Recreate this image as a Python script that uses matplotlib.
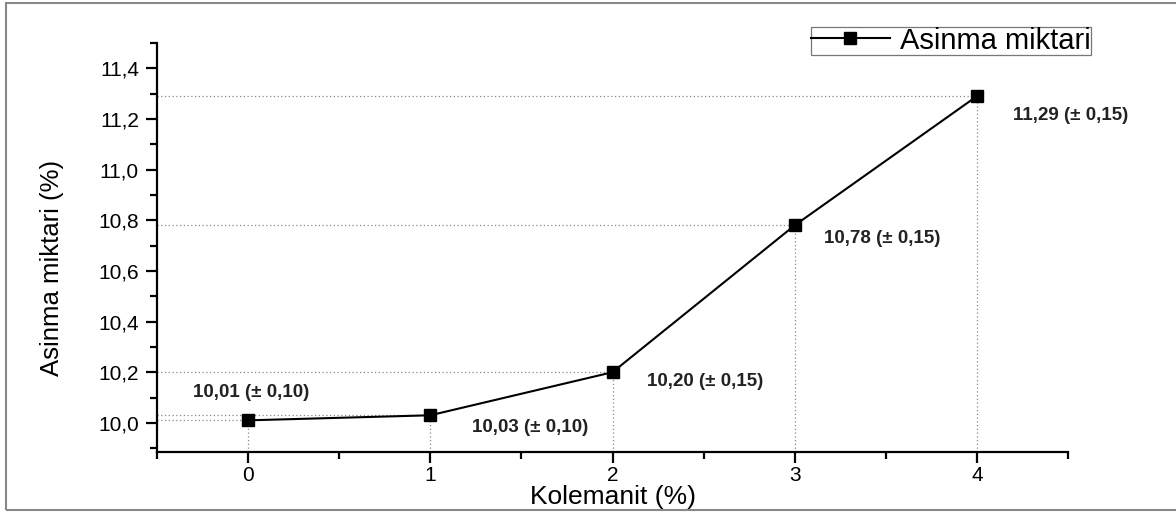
import matplotlib
matplotlib.use("Agg")
import matplotlib.pyplot as plt
from matplotlib.ticker import MultipleLocator, FuncFormatter
from matplotlib.patches import Rectangle

x_vals = [0, 1, 2, 3, 4]
y_vals = [10.01, 10.03, 10.20, 10.78, 11.29]
labels = ["10,01 (± 0,10)", "10,03 (± 0,10)", "10,20 (± 0,15)",
          "10,78 (± 0,15)", "11,29 (± 0,15)"]
label_offsets = [(-0.3, 0.11), (0.23, -0.05), (0.19, -0.035), (0.16, -0.05), (0.2, -0.075)]
series_name = "Asinma miktari"

plt.rcParams['font.family'] = ['Liberation Sans', 'DejaVu Sans']

fig = plt.figure(figsize=(11.76, 5.12), dpi=100)
ax = fig.add_axes([157/1176, 1-452/512, (1068-157)/1176, (452-43)/512])

# figure frame (left, top, bottom)
fig.add_artist(Rectangle((6/1176, 2/512), 1.2, 1-4.5/512, transform=fig.transFigure,
                         fill=False, edgecolor='#888888', linewidth=1.5))

ax.set_xlim(-0.5, 4.5)
ax.set_ylim(9.885, 11.5)

# dotted guide lines
for xv, yv in zip(x_vals, y_vals):
    ax.plot([-0.5, xv], [yv, yv], linestyle=(0, (1, 2)), color='#888888', linewidth=0.9, zorder=1)
    ax.plot([xv, xv], [9.885, yv], linestyle=(0, (1, 2)), color='#888888', linewidth=0.9, zorder=1)

ax.plot(x_vals, y_vals, color='black', linewidth=1.5, marker='s', markersize=8,
        markerfacecolor='black', markeredgecolor='black', label=series_name, zorder=3)

for xv, yv, lab, (dx, dy) in zip(x_vals, y_vals, labels, label_offsets):
    ax.text(xv + dx, yv + dy, lab, fontsize=13.5, fontweight='bold', color='#222222',
            ha='left', va='center')

ax.spines['top'].set_visible(False)
ax.spines['right'].set_visible(False)
ax.spines['left'].set_linewidth(1.6)
ax.spines['bottom'].set_linewidth(1.6)

ax.xaxis.set_major_locator(MultipleLocator(1))
ax.xaxis.set_minor_locator(MultipleLocator(0.5))
ax.yaxis.set_minor_locator(MultipleLocator(0.1))
ax.set_yticks([10.0, 10.2, 10.4, 10.6, 10.8, 11.0, 11.2, 11.4])
ax.yaxis.set_major_formatter(FuncFormatter(lambda v, p: f"{v:.1f}".replace('.', ',')))
ax.xaxis.set_major_formatter(FuncFormatter(lambda v, p: f"{int(round(v))}"))
ax.tick_params(which='major', direction='out', length=8, width=1.6, labelsize=15)
ax.tick_params(which='minor', direction='out', length=5, width=1.6)
ax.tick_params(axis='x', pad=2)
ax.tick_params(axis='y', pad=5)

ax.set_xlabel("Kolemanit (%)", fontsize=19, labelpad=0)
ax.set_ylabel("Asinma miktari (%)", fontsize=18.5)
ax.yaxis.set_label_coords(-0.102, 0.45)

leg = ax.legend(loc='upper right', bbox_to_anchor=(1.025, 1.04), fontsize=21, frameon=True,
                fancybox=False, edgecolor='#555555', handlelength=2.7,
                borderpad=0.0, handletextpad=0.35, borderaxespad=0)
leg.get_frame().set_linewidth(0.9)

fig.savefig("out.png", dpi=100)
